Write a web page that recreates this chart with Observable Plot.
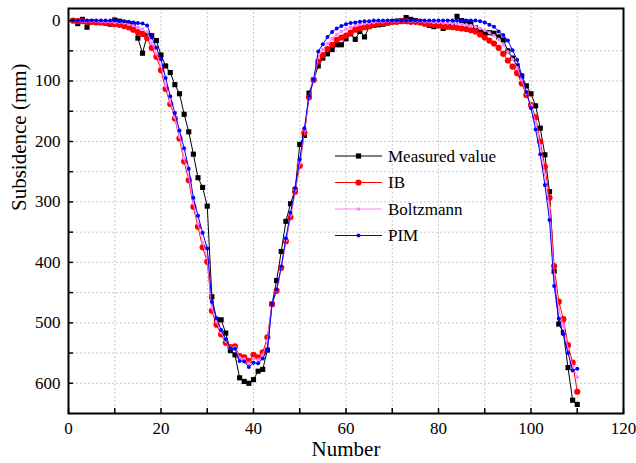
<!DOCTYPE html>
<html><head><meta charset="utf-8">
<script src="https://cdn.jsdelivr.net/npm/d3@7"></script>
<script src="https://cdn.jsdelivr.net/npm/@observablehq/plot@0.6"></script>
<style>
body{margin:0;background:#fff}
#chart{width:636px;height:463px}
#chart svg, #chart svg text { font-family: "Liberation Serif", "Times New Roman", Tinos, "DejaVu Serif", serif !important; }
</style>
</head><body><div id="chart"></div>
<script>
const number = d3.range(1, 111);
const measured = [0,5,-2,11,2,3,3,4,6,-1, 1,3,5,6,29,54,24,25,33,57,
  75,86,106,121,155,184,221,260,276,307, 457,495,495,517,546,553,591,597,600,594,
  580,577,545,469,430,382,332,303,280,205, 190,120,98,75,62,55,48,40,40,30,
  22,31,18,27,10,8,7,6,4,2, 1,0,-5,-2,0,2,5,8,10,7,
  13,10,8,-7,0,2,5,12,18,20, 20,21,27,32,50,62,75,92,108,121,
  141,178,222,283,415,502,516,574,628,635];
const ib = [0,1,1,2,2,3,3,4,5,6, 7,9,11,15,19,22,29,45,60,82,
  113,138,162,195,233,264,308,341,375,399, 480,503,519,533,540,539,555,557,563,553,
  557,549,524,469,447,409,365,325,283,240, 185,127,98,68,57,47,40,32,28,25,
  20,15,13,11,9,7,5,4,3,2, 2,1,1,2,2,3,5,6,7,8,
  9,10,11,12,13,14,16,18,23,28, 33,38,45,55,66,76,87,104,123,140,
  160,200,242,293,406,465,494,537,566,614];
const boltzmann = [0,0,1,1,1,1,2,2,2,3, 3,4,6,8,11,14,19,38,55,75,
  108,135,160,192,228,258,302,336,368,392, 475,498,516,530,541,541,558,560,567,559,
  561,553,530,469,446,408,363,322,280,236, 182,126,98,60,48,38,30,23,18,14,
  11,8,6,5,4,3,2,2,1,1, 1,0,0,1,1,1,2,2,3,3,
  4,4,5,5,6,7,8,10,13,16, 20,25,31,40,52,64,78,98,120,140,
  168,208,255,310,420,478,505,543,572,590];
const pim = [0,0,0,0,0,0,0,0,0,0, 1,1,2,3,4,5,8,28,45,64,
  95,125,153,182,211,245,293,323,351,377, 465,492,512,527,542,543,563,564,573,566,
  567,559,545,469,445,407,360,318,277,230, 178,125,98,51,39,27,19,13,9,6,
  4,3,2,1,1,0,0,0,0,0, 0,0,0,0,0,0,0,0,0,0,
  0,0,0,0,0,0,0,0,1,3, 7,10,18,24,33,49,65,90,118,145,
  180,221,272,330,439,493,519,550,579,576];

const seriesNames = ["Measured value", "IB", "Boltzmann", "PIM"];
const seriesColors = ["#000000", "#ff0000", "#ff7fff", "#0000ff"];
const xLabelTicks = [0, 20, 40, 60, 80, 100, 120];
const xAllTicks = [0, 10, 20, 30, 40, 50, 60, 70, 80, 90, 100, 110, 120];
const xGrid = [10, 20, 30, 40, 50, 60, 70, 80, 90, 100, 110];
const yLabelTicks = [0, 100, 200, 300, 400, 500, 600];
const yAllTicks = [0, 50, 100, 150, 200, 250, 300, 350, 400, 450, 500, 550, 600];
const yGrid = [50, 100, 150, 200, 250, 300, 350, 400, 450, 500, 550, 600];

const W = 636, H = 463, mL = 68, mR = 13, mT = 8, mB = 50;
const pw = W - mL - mR, ph = H - mT - mB;
const font = "Liberation Serif, Times New Roman, Tinos, DejaVu Serif, serif";

const rows = (vals) => vals.map((v, i) => ({n: number[i], v}));
const sets = [measured, ib, boltzmann, pim].map(rows);

const marks = [
  Plot.ruleX(xGrid, {x: d => d, stroke: "#c8c8c8", strokeDasharray: "2,2", strokeWidth: 1}),
  Plot.ruleY(yGrid, {y: d => d, stroke: "#c8c8c8", strokeDasharray: "2,2", strokeWidth: 1}),
];
const symbols = ["square", "circle", "circle", "circle"];
const radii = [2.9, 3.1, 1.8, 2.0];
sets.forEach((data, k) => {
  marks.push(Plot.line(data, {x: "n", y: "v", stroke: seriesColors[k], strokeWidth: 1}));
  marks.push(Plot.dot(data, {x: "n", y: "v", fill: seriesColors[k], r: radii[k], symbol: symbols[k], stroke: "none"}));
});
marks.push(
  Plot.frame({stroke: "black", strokeWidth: 2}),
  Plot.tickX(xAllTicks, {x: d => d, stroke: "black", strokeWidth: 1.5, insetTop: ph - 5}),
  Plot.tickY(yAllTicks, {y: d => d, stroke: "black", strokeWidth: 1.5, insetRight: pw - 5}),
  Plot.axisX({ticks: xLabelTicks, tickSize: 0, tickPadding: 8, fontSize: 17, fontFamily: font, label: null}),
  Plot.axisY({ticks: yLabelTicks, tickSize: 0, tickPadding: 8, fontSize: 17, fontFamily: font, label: null}),
  Plot.text(["Number"], {frameAnchor: "bottom", dy: 42, fontSize: 21, fontFamily: font, text: d => d}),
  Plot.text(["Subsidence (mm)"], {frameAnchor: "left", dx: -49, rotate: -90, fontSize: 21, fontFamily: font, text: d => d})
);

const chart = Plot.plot({
  width: W, height: H,
  marginLeft: mL, marginRight: mR, marginTop: mT, marginBottom: mB,
  style: {fontFamily: font, fontSize: "17px", background: "#fff", color: "#000"},
  x: {domain: [0, 120]},
  y: {domain: [-20, 650], reverse: true},
  marks
});
document.getElementById("chart").appendChild(chart);

// legend drawn inside the plot area
const svg = d3.select(chart);
const lg = svg.append("g").attr("font-family", font).attr("font-size", 17).attr("text-anchor", "start");
const rowY = [156, 182.5, 209, 235.5];
seriesNames.forEach((name, k) => {
  const y = rowY[k];
  lg.append("line").attr("x1", 335).attr("x2", 382).attr("y1", y).attr("y2", y)
    .attr("stroke", seriesColors[k]).attr("stroke-width", 1);
  if (symbols[k] === "square") {
    lg.append("rect").attr("x", 358.5 - 2.6).attr("y", y - 2.6).attr("width", 5.2).attr("height", 5.2).attr("fill", seriesColors[k]);
  } else {
    lg.append("circle").attr("cx", 358.5).attr("cy", y).attr("r", radii[k]).attr("fill", seriesColors[k]);
  }
  lg.append("text").attr("x", 388).attr("y", y).attr("dy", "0.35em").attr("text-anchor", "start").attr("fill", "#000").text(name);
});
</script>
</body></html>
